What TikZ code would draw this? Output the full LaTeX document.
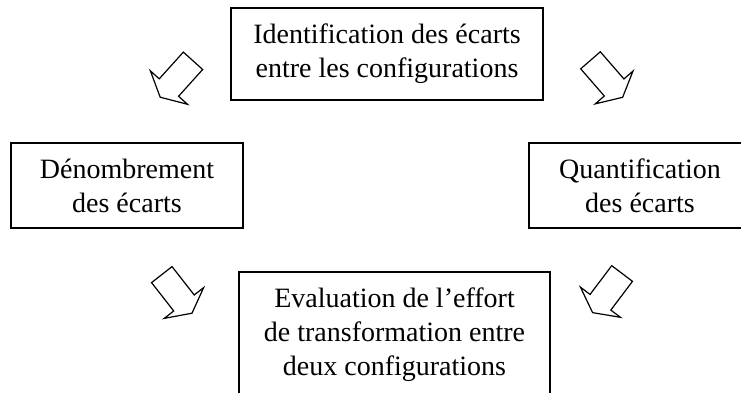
\documentclass[tikz,border=0pt]{standalone}
\usepackage{fontspec}
\setmainfont{Liberation Serif}
\tikzset{
  box/.style={draw, line width=1.2pt, align=center, inner sep=0pt,
    font=\fontsize{28}{34}\selectfont},
  arrowline/.style={draw, line width=1.2pt, line join=miter},
  blockarrow/.pic={
    \path[arrowline] (0,13) -- (36,13) -- (36,25) -- (49,0) -- (36,-25)
      -- (36,-13) -- (0,-13) -- cycle;
  }
}
\begin{document}
\begin{tikzpicture}[x=1pt, y=1pt]
    \useasboundingbox (0,0) rectangle (741,-392);
    \clip (0,0) rectangle (741,-392);

    % Boites
    \node[box, minimum width=312pt, minimum height=92pt] (ident) at (387,-54)
      {Identification des écarts\\entre les configurations};
    \node[box, minimum width=232pt, minimum height=85pt] (denomb) at (127,-185.5)
      {Dénombrement\\des écarts};
    \node[box, minimum width=222pt, minimum height=85pt] (quant) at (640,-185.5)
      {Quantification\\des écarts};
    \node[box, minimum width=311pt, minimum height=126pt] (eval) at (394.5,-335)
      {Evaluation de l’effort\\de transformation entre\\deux configurations};

    % Fleches
    \pic[rotate=228] at (193,-60.8) {blockarrow};
    \pic[rotate=-49] at (590.5,-60.3) {blockarrow};
    \pic[rotate=-52] at (161.8,-274.6) {blockarrow};
    \pic[rotate=233] at (622.1,-273.5) {blockarrow};
\end{tikzpicture}
\end{document}
